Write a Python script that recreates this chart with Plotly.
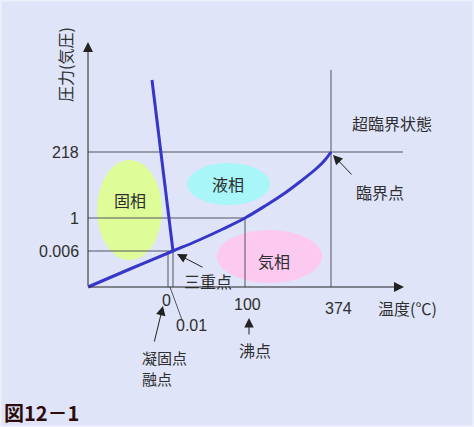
import plotly.graph_objects as go

# ---------------- data (schematic axis units) ----------------
temp_labels = ["0", "0.01", "100", "374"]
temp_pos = [80, 85, 157, 243]          # schematic position of each temperature
pres_labels = ["0.006", "1", "218"]
pres_pos = [36, 69, 135]               # schematic position of each pressure

# solid-liquid (melting) line
melt_x = [85, 64]
melt_y = [36, 207]
# liquid-gas / solid-gas boundary
vap_x = [0, 42, 85, 110, 135, 157, 177, 197, 213, 229, 237, 243]
vap_y = [0, 18, 36, 46.5, 58, 69, 81, 94, 106, 119, 127, 135]

x_axis_end = 316
y_axis_end = 245
line_218_end = 315
line_374_top = 217

phase_names = ["固相", "液相", "気相"]
phase_cx = [41.5, 140.5, 181.5]
phase_cy = [77, 103, 30.5]
phase_rx = [32.5, 41.5, 52.5]
phase_ry = [50, 21, 26.5]
phase_colors = ["#defc98", "#a8f6f8", "#fccaf0"]
phase_label_xy = [(42, 87), (140, 103), (186, 26)]

BG = "#dfe4f8"
TXT = "#2e2e2e"
GUIDE = "#555560"
CURVE = "#3636c8"
JP = "Noto Sans CJK JP"
NUM = "Liberation Sans, Arial"

fig = go.Figure()

# phase ellipses
shapes = []
for cx, cy, rx, ry, c in zip(phase_cx, phase_cy, phase_rx, phase_ry, phase_colors):
    shapes.append(dict(type="circle", xref="x", yref="y",
                       x0=cx - rx, x1=cx + rx, y0=cy - ry, y1=cy + ry,
                       fillcolor=c, line=dict(width=0), layer="below"))

# guide lines
T0, T001, T100, T374 = temp_pos
P0006, P1, P218 = pres_pos
gx = [0, line_218_end, None, T374, T374, None,
      0, T100, None, T100, T100, None,
      0, T001, None, T001, T001, None, T0, T0]
gy = [P218, P218, None, 0, line_374_top, None,
      P1, P1, None, 0, P1, None,
      P0006, P0006, None, 0, P0006, None, 0, P0006]
fig.add_trace(go.Scatter(x=gx, y=gy, mode="lines",
                         line=dict(color=GUIDE, width=1), hoverinfo="skip"))
# 0.01 leader
fig.add_trace(go.Scatter(x=[T001 - 3, T001 + 9], y=[0, -33], mode="lines",
                         line=dict(color=GUIDE, width=1), hoverinfo="skip"))

# phase boundaries
fig.add_trace(go.Scatter(x=melt_x, y=melt_y, mode="lines",
                         line=dict(color=CURVE, width=3), hoverinfo="skip"))
fig.add_trace(go.Scatter(x=vap_x, y=vap_y, mode="lines",
                         line=dict(color=CURVE, width=3, shape="spline", smoothing=1.0),
                         hoverinfo="skip"))

ann = []
# axes with arrows
ann.append(dict(x=0, y=y_axis_end, ax=0, ay=0, xref="x", yref="y", axref="x", ayref="y",
                showarrow=True, arrowhead=2, arrowsize=2, arrowwidth=1, arrowcolor="#222", text=""))
ann.append(dict(x=x_axis_end, y=0, ax=0, ay=0, xref="x", yref="y", axref="x", ayref="y",
                showarrow=True, arrowhead=2, arrowsize=2, arrowwidth=1, arrowcolor="#222", text=""))

def txt(x, y, s, font=NUM, size=16, **kw):
    d = dict(x=x, y=y, xref="x", yref="y", text=s, showarrow=False,
             font=dict(family=font, size=size, color=TXT))
    d.update(kw)
    ann.append(d)

# pressure ticks
for lab, p in zip(pres_labels, pres_pos):
    txt(-7, p, lab, xanchor="right")
# temperature ticks
tick_y = {"0": -13, "0.01": -38, "100": -17, "374": -21}
tick_dx = {"0": -2, "0.01": 18, "100": 2, "374": 7}
for lab, t in zip(temp_labels, temp_pos):
    txt(t + tick_dx[lab], tick_y[lab], lab)

txt(319, -21, "温度(℃)", font=JP)
txt(-23, 222, "圧力(気圧)", font=JP, textangle=-90)
txt(304, 164, "超臨界状態", font=JP)
txt(292, 95, "臨界点", font=JP)
txt(120, 6, "三重点", font=JP)
txt(52, -70, "凝固点", font=JP, size=15, xanchor="left")
txt(52, -91, "融点", font=JP, size=15, xanchor="left")
txt(167, -63, "沸点", font=JP)
for name, (lx, ly) in zip(phase_names, phase_label_xy):
    txt(lx, ly, name, font=JP)

# pointer arrows
def arrow(hx, hy, tx, ty):
    ann.append(dict(x=hx, y=hy, ax=tx, ay=ty, xref="x", yref="y", axref="x", ayref="y",
                    text="", showarrow=True, arrowhead=2, arrowsize=1.9,
                    arrowwidth=1, arrowcolor="#222"))

arrow(245, 132, 265, 111)   # critical point
arrow(89, 33, 116, 19)      # triple point
arrow(75, -19, 66, -56)     # freezing / melting point
arrow(161, -31, 161, -49)   # boiling point

# figure caption
ann.append(dict(x=0.004, y=0.033, xref="paper", yref="paper", text="<b>図12－1</b>",
                showarrow=False, xanchor="left", yanchor="middle",
                font=dict(family=JP, size=20, color="#2e0c0c")))

shapes.append(dict(type="rect", xref="paper", yref="paper", x0=0, x1=1, y0=0, y1=1,
                   line=dict(color="#eef0fb", width=3), layer="above"))

fig.update_layout(
    width=474, height=427, margin=dict(l=0, r=0, t=0, b=0),
    paper_bgcolor=BG, plot_bgcolor=BG, showlegend=False,
    xaxis=dict(range=[-88, 386], visible=False, fixedrange=True),
    yaxis=dict(range=[-140, 287], visible=False, fixedrange=True),
    shapes=shapes, annotations=ann,
)

fig.write_html("out.html")
